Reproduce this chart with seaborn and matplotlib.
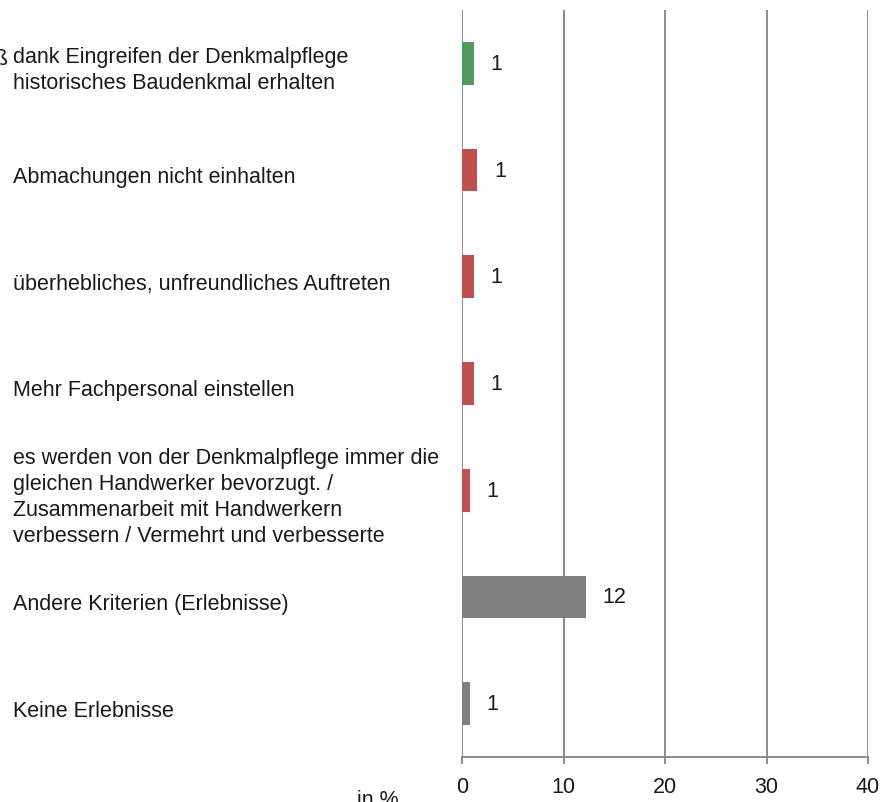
import pandas as pd
import numpy as np
import matplotlib.pyplot as plt
import matplotlib.transforms as mtransforms
import seaborn as sns

# Werte in Prozent (Balkenlaenge aus dem Bild geschaetzt), Beschriftung gerundet
categories = [
    "dank Eingreifen der Denkmalpflege\nhistorisches Baudenkmal erhalten",
    "Abmachungen nicht einhalten",
    "überhebliches, unfreundliches Auftreten",
    "Mehr Fachpersonal einstellen",
    "es werden von der Denkmalpflege immer die\ngleichen Handwerker bevorzugt. /\nZusammenarbeit mit Handwerkern\nverbessern / Vermehrt und verbesserte",
    "Andere Kriterien (Erlebnisse)",
    "Keine Erlebnisse",
]
values = [1.2, 1.5, 1.2, 1.2, 0.8, 12.2, 0.8]
value_labels = ["1", "1", "1", "1", "1", "12", "1"]
bar_colors = ["#4E9A5F", "#C0504D", "#C0504D", "#C0504D", "#C0504D", "#808080", "#808080"]
x_ticks = [0, 10, 20, 30, 40]

sns.set_theme(style="white")
plt.rcParams['font.family'] = ['Liberation Sans', 'DejaVu Sans']
fs = 15.5
txt_col = "#1a1a1a"

df = pd.DataFrame({"Kategorie": categories, "Prozent": values})

fig = plt.figure(figsize=(8.83, 8.03), dpi=100)
ax = fig.add_axes([462 / 883, 1 - 758 / 803, (868 - 462) / 883, (758 - 11) / 803])

sns.barplot(data=df, x="Prozent", y="Kategorie", hue="Kategorie",
            palette=bar_colors, dodge=False, legend=False, width=0.4,
            saturation=1, linewidth=0, ax=ax, orient="h")

ax.set_xlim(0, 40)
ax.set_ylim(len(categories) - 0.5, -0.5)
ax.set_xticks(x_ticks)
ax.set_xticklabels([str(t) for t in x_ticks], fontsize=fs, color=txt_col)
ax.set_yticks([])
ax.set_xlabel("")
ax.set_ylabel("")

grid_col = "#8c8c8c"
ax.grid(axis="x", color=grid_col, linewidth=1.4)
ax.set_axisbelow(True)
for s in ["top", "right", "left"]:
    ax.spines[s].set_visible(False)
ax.spines["bottom"].set_color(grid_col)
ax.spines["bottom"].set_linewidth(1.4)
ax.tick_params(axis="x", bottom=True, direction="out", length=5, width=1.4,
               color=grid_col, pad=9)

# Werte rechts neben den Balken
for i, (v, lab) in enumerate(zip(values, value_labels)):
    ax.annotate(lab, xy=(v, i), xytext=(12, 0), textcoords="offset points",
                ha="left", va="center", fontsize=fs, color=txt_col)

# Kategorienbeschriftung links, linksbuendig
trans = mtransforms.blended_transform_factory(fig.transFigure, ax.transData)
for i, cat in enumerate(categories):
    ax.text(13 / 883, i + 0.06, cat, transform=trans, ha="left", va="center",
            fontsize=fs, color=txt_col, linespacing=1.3, clip_on=False)
# abgeschnittener Textanfang der ersten Beschriftung
ax.text(8 / 883, 0 + 0.06 - 0.105, "daß", transform=trans, ha="right", va="center",
        fontsize=fs, color=txt_col, clip_on=False)

fig.text(357 / 883, -3 / 803, "in %", ha="left", va="baseline", fontsize=fs,
         color=txt_col)

fig.savefig("out.png", dpi=100)
